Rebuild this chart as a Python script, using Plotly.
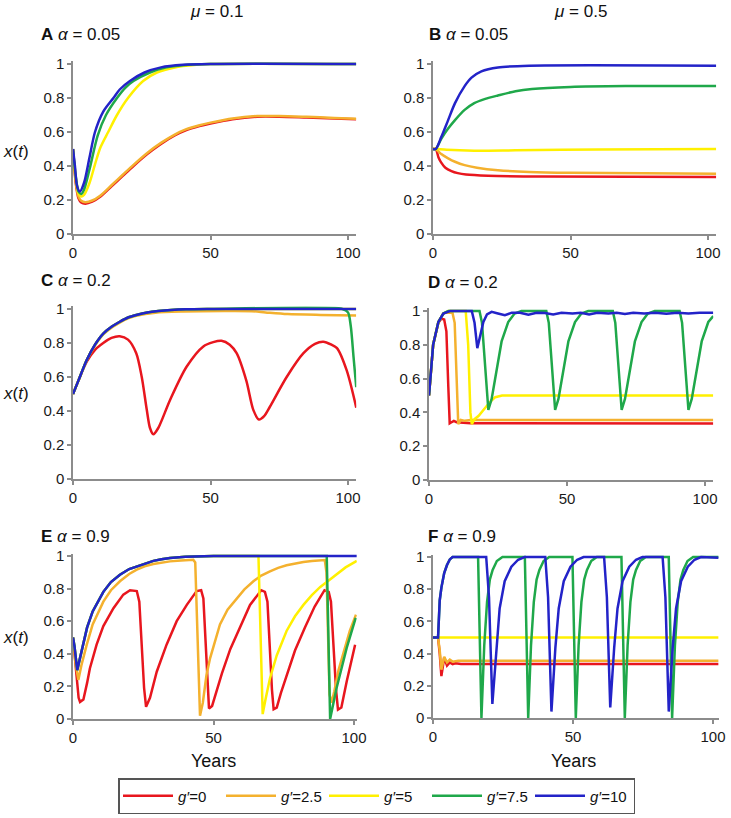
import plotly.graph_objects as go

W, H = 731, 818

def px(x):
    return x / W

def py(y):
    return 1 - y / H

# ---------------- data ----------------
series_names = ["<i>g′</i>=0", "<i>g′</i>=2.5", "<i>g′</i>=5", "<i>g′</i>=7.5", "<i>g′</i>=10"]
series_colors = ["#E8161E", "#F4B12E", "#FFF000", "#1FA84A", "#2323C8"]
y_ticks = [0, 0.2, 0.4, 0.6, 0.8, 1]
y_ticktext = ["0", "0.2", "0.4", "0.6", "0.8", "1"]
x_ticks = [0, 50, 100]

# Panel A  (mu = 0.1, alpha = 0.05)
A_red = [(0,0.5),(1,0.3),(2,0.21),(3,0.185),(4.5,0.178),(7,0.19),(10,0.22),(14,0.28),(18,0.34),(22,0.4),(27,0.47),(32,0.53),(37,0.58),(41,0.61),(46,0.635),(50,0.65),(58,0.675),(67,0.69),(75,0.69),(85,0.685),(95,0.68),(103,0.675)]
A_orange = [(0,0.5),(1,0.31),(2,0.22),(3,0.195),(4.5,0.187),(7,0.197),(10,0.227),(14,0.287),(18,0.347),(22,0.407),(27,0.477),(32,0.536),(37,0.585),(41,0.615),(46,0.64),(50,0.655),(58,0.68),(67,0.694),(75,0.694),(85,0.689),(95,0.683),(103,0.678)]
A_yellow = [(0,0.5),(1,0.33),(2,0.24),(3,0.22),(4,0.23),(6,0.3),(8,0.41),(10,0.51),(12.8,0.6),(16,0.7),(20,0.8),(25.5,0.9),(30.5,0.95),(37,0.98),(45,0.995),(50,1),(103,1)]
A_green = [(0,0.5),(1,0.34),(2,0.25),(3,0.235),(4,0.26),(6,0.38),(9,0.58),(12,0.7),(16,0.8),(19,0.86),(22,0.9),(28,0.95),(34,0.98),(40,0.993),(50,1),(103,1)]
A_blue = [(0,0.5),(0.7,0.4),(1.5,0.28),(2.5,0.25),(4,0.3),(6,0.45),(8,0.6),(11,0.72),(14.7,0.8),(17,0.85),(20.7,0.9),(26,0.95),(32,0.98),(40,0.995),(50,1),(103,1)]

# Panel B  (mu = 0.5, alpha = 0.05)
B_red = [(0,0.5),(1,0.5),(2,0.45),(3,0.42),(4.5,0.39),(6.7,0.37),(9,0.358),(12,0.35),(20,0.343),(40,0.338),(103,0.335)]
B_orange = [(0,0.5),(1,0.5),(3,0.47),(5.5,0.445),(8,0.425),(11.5,0.405),(16,0.39),(23.6,0.375),(35,0.365),(50,0.36),(103,0.355)]
B_yellow = [(0,0.5),(1,0.5),(5,0.495),(15,0.49),(30,0.492),(60,0.497),(103,0.5)]
B_green = [(0,0.5),(1,0.5),(3,0.56),(5.5,0.62),(8,0.67),(11.5,0.73),(15,0.77),(19,0.795),(23.6,0.815),(30,0.84),(36,0.853),(50,0.865),(70,0.87),(103,0.87)]
B_blue = [(0,0.5),(1,0.5),(3,0.57),(5.5,0.67),(8,0.77),(11.5,0.87),(14,0.92),(17.6,0.957),(23.6,0.98),(35,0.99),(103,0.99)]

# Panel C  (mu = 0.1, alpha = 0.2)
C_red = [(0,0.5),(2,0.58),(5,0.69),(8,0.76),(11,0.8),(14,0.83),(17,0.84),(20,0.82),(23,0.74),(25,0.6),(26.8,0.41),(28,0.3),(29.2,0.263),(31,0.3),(35.3,0.465),(41.3,0.66),(47.4,0.78),(51,0.805),(54,0.813),(57,0.79),(59.5,0.74),(63,0.58),(65.6,0.405),(67.6,0.35),(69.5,0.37),(71.6,0.425),(77.7,0.6),(83.8,0.74),(88,0.795),(91,0.808),(94,0.79),(96,0.77),(99.5,0.64),(103,0.42)]
C_orange = [(0,0.5),(2,0.58),(5,0.7),(8,0.785),(11,0.85),(14,0.89),(17,0.92),(20,0.945),(23,0.96),(30,0.978),(40,0.985),(55,0.988),(65,0.987),(70,0.98),(78,0.97),(90,0.965),(103,0.962)]
C_yellow = [(0,0.5),(2,0.58),(5,0.7),(8,0.79),(11,0.855),(14,0.895),(17,0.925),(20,0.95),(23,0.965),(27,0.98),(31,0.988),(41,0.998),(50,1),(103,1)]
C_green = [(0,0.5),(2,0.58),(5,0.7),(8,0.79),(11,0.855),(14,0.895),(17,0.925),(20,0.95),(23,0.965),(27,0.98),(31,0.988),(41,0.998),(50,1),(98,1),(100,0.98),(101,0.9),(102,0.72),(103,0.54)]
C_blue = [(0,0.5),(2,0.58),(5,0.7),(8,0.79),(11,0.855),(14,0.895),(17,0.925),(20,0.95),(23,0.965),(27,0.98),(31,0.988),(41,0.998),(50,1),(103,1)]

# Panel D  (mu = 0.5, alpha = 0.2)
D_red = [(0,0.5),(1.5,0.8),(3.4,0.93),(4.5,0.955),(5.5,0.95),(6.3,0.88),(7,0.55),(7.5,0.335),(8,0.34),(9,0.35),(10,0.342),(12,0.338),(15,0.336),(103,0.335)]
D_orange = [(0,0.5),(1.5,0.8),(3.4,0.935),(5.2,0.985),(6,0.99),(8.5,0.99),(9.3,0.93),(10,0.55),(10.6,0.33),(11.5,0.355),(13,0.35),(15,0.355),(103,0.355)]
D_yellow = [(0,0.5),(1.5,0.8),(3.4,0.935),(5.2,0.985),(7,1),(13.3,1),(14.2,0.8),(15,0.4),(15.5,0.33),(16.5,0.36),(18,0.38),(20,0.42),(22,0.46),(24,0.49),(26.5,0.5),(103,0.5)]
D_green = [(0,0.5),(1.5,0.8),(3.4,0.935),(5.2,0.985),(7,1),(18.3,1),(19.2,0.93),(20.3,0.66),(21.5,0.415),(22.7,0.48),(24.5,0.66),(26.3,0.82),(28.7,0.935),(31,0.985),(33.5,1),(42.5,1),(43.4,0.93),(44.5,0.66),(45.7,0.415),(46.9,0.48),(48.7,0.66),(50.5,0.82),(52.9,0.935),(55.2,0.985),(57.7,1),(66.6,1),(67.5,0.93),(68.6,0.66),(69.8,0.415),(71,0.48),(72.8,0.66),(74.6,0.82),(77,0.935),(79.3,0.985),(81.8,1),(90.8,1),(91.7,0.93),(92.8,0.66),(94,0.415),(95.2,0.48),(97,0.66),(98.8,0.82),(101.2,0.935),(103,0.97)]
D_blue = [(0,0.5),(1.5,0.8),(3.4,0.935),(5.2,0.985),(7.6,1),(15.5,1),(16.5,0.93),(17.5,0.78),(18.5,0.85),(19.7,0.935),(21,0.98),(22.7,0.995),(25,0.985),(27.5,0.975),(30,0.99),(33,0.99),(36,0.978),(39,0.99),(42,0.988),(45,0.98),(48,0.99),(52,0.985),(55,0.99),(58,0.98),(61,0.99),(65,0.985),(68,0.99),(71,0.982),(74,0.99),(78,0.985),(82,0.99),(86,0.984),(90,0.99),(94,0.985),(98,0.99),(103,0.99)]

# Panel E  (mu = 0.1, alpha = 0.9)
E_red = [(0,0.5),(1,0.3),(2,0.13),(2.5,0.105),(3.7,0.12),(5,0.22),(6,0.31),(8.4,0.456),(10.8,0.57),(14.4,0.68),(17.9,0.763),(20.3,0.79),(22.7,0.785),(23.6,0.72),(24.4,0.435),(25.3,0.19),(26,0.075),(27.4,0.13),(29.8,0.29),(33.3,0.456),(36.9,0.6),(40.5,0.7),(44,0.785),(45.6,0.79),(46.4,0.74),(47.3,0.435),(48.4,0.065),(49.5,0.08),(51,0.17),(53,0.28),(56,0.43),(59.5,0.57),(63,0.7),(67,0.79),(68.3,0.78),(69.2,0.72),(70,0.44),(70.8,0.18),(71.4,0.06),(72.5,0.07),(74,0.16),(76,0.27),(79,0.42),(82.5,0.56),(86,0.69),(89.5,0.79),(91,0.78),(91.8,0.72),(92.7,0.44),(93.6,0.18),(94.3,0.057),(95.5,0.07),(97.4,0.23),(100.4,0.456)]
E_orange = [(0,0.5),(1,0.33),(1.9,0.24),(3,0.33),(4.9,0.456),(7,0.58),(10.8,0.72),(13.5,0.79),(16.7,0.845),(20,0.89),(22.7,0.916),(25.5,0.937),(28.6,0.951),(31.5,0.96),(34.5,0.967),(38.5,0.973),(42.8,0.977),(43.5,0.96),(44.3,0.5),(45.2,0.02),(46.2,0.1),(47.5,0.27),(48.8,0.374),(50.5,0.48),(52.3,0.58),(55,0.67),(58.2,0.74),(61,0.795),(64.2,0.845),(67,0.88),(70.1,0.906),(73,0.927),(76,0.943),(79,0.955),(82,0.963),(85,0.97),(88,0.975),(89.6,0.975),(90.2,0.9),(90.8,0.4),(91.3,0.15),(92,0.1),(93,0.17),(94.5,0.3),(96.5,0.42),(98.5,0.54),(100.7,0.64)]
E_yellow = [(0,0.5),(0.5,0.45),(1.5,0.3),(3,0.42),(5,0.56),(7,0.66),(10.8,0.78),(13.5,0.84),(16.7,0.885),(20,0.92),(22.7,0.937),(25.5,0.955),(28.6,0.97),(31.5,0.98),(34.5,0.988),(40,0.995),(50,1),(66,1),(67.5,0.03),(68.5,0.12),(70.1,0.25),(72.5,0.39),(76,0.54),(79,0.63),(82,0.7),(85,0.76),(88,0.81),(91,0.85),(94,0.89),(97,0.93),(101,0.97)]
E_green = [(0,0.5),(0.5,0.45),(1.5,0.3),(3,0.42),(5,0.56),(7,0.66),(10.8,0.78),(13.5,0.84),(16.7,0.885),(20,0.92),(22.7,0.937),(25.5,0.955),(28.6,0.97),(31.5,0.98),(34.5,0.988),(40,0.995),(50,1),(90.3,1),(91.5,0.0),(93.8,0.19),(97.4,0.436),(100.6,0.62)]
E_blue = [(0,0.5),(0.5,0.45),(1.5,0.3),(3,0.42),(5,0.56),(7,0.66),(10.8,0.78),(13.5,0.84),(16.7,0.885),(20,0.92),(22.7,0.937),(25.5,0.955),(28.6,0.97),(31.5,0.98),(34.5,0.988),(40,0.995),(50,1),(101,1)]

# Panel F  (mu = 0.5, alpha = 0.9)
F_red = [(0,0.5),(1.8,0.5),(2.4,0.4),(3,0.26),(4,0.375),(5,0.325),(6,0.345),(7,0.335),(8,0.34),(10,0.335),(102,0.335)]
F_orange = [(0,0.5),(1.8,0.5),(2.4,0.42),(3,0.3),(4,0.38),(5,0.345),(6,0.362),(7,0.35),(9,0.355),(102,0.355)]
F_yellow = [(0,0.5),(102,0.5)]
F_green = [(0,0.5),(1.8,0.5),(2.4,0.73),(3,0.81),(4,0.9),(5,0.95),(6,0.985),(7,1),(16.1,1),(17.3,0.0),(18.3,0.45),(19.3,0.72),(20.3,0.86),(21.3,0.92),(22.8,0.975),(24.8,1),(32.8,1),(34,0.0),(35,0.45),(36,0.72),(37,0.86),(38,0.92),(39.5,0.975),(41.5,1),(49.8,1),(51,0.0),(52,0.45),(53,0.72),(54,0.86),(55,0.92),(56.5,0.975),(58.5,1),(67.3,1),(68.5,0.0),(69.5,0.45),(70.5,0.72),(71.5,0.86),(72.5,0.92),(74,0.975),(76,1),(84.2,1),(85.4,0.0),(86.4,0.45),(87.4,0.72),(88.4,0.86),(89.4,0.92),(90.9,0.975),(92.9,1),(102,1)]
F_blue = [(0,0.5),(1.8,0.5),(2.4,0.73),(3,0.81),(4,0.9),(5,0.95),(6,0.985),(7,1),(19,1),(20,0.75),(21.2,0.087),(22.6,0.435),(23.8,0.68),(25.6,0.85),(28,0.94),(30.4,0.983),(32.7,1),(40.1,1),(41.1,0.75),(42.3,0.04),(43.7,0.435),(44.9,0.68),(46.7,0.85),(49.1,0.94),(51.5,0.983),(53.8,1),(61.1,1),(62.1,0.75),(63.3,0.066),(64.7,0.435),(65.9,0.68),(67.7,0.85),(70.1,0.94),(72.5,0.983),(74.8,1),(82,1),(83,0.75),(84.2,0.04),(85.6,0.435),(86.8,0.68),(88.6,0.85),(91,0.94),(93.4,0.983),(95.7,1),(102,0.995)]

panel_series = {
    "A": [A_red, A_orange, A_yellow, A_green, A_blue],
    "B": [B_red, B_orange, B_yellow, B_green, B_blue],
    "C": [C_red, C_orange, C_yellow, C_green, C_blue],
    "D": [D_red, D_orange, D_yellow, D_green, D_blue],
    "E": [E_red, E_orange, E_yellow, E_green, E_blue],
    "F": [F_red, F_orange, F_yellow, F_green, F_blue],
}
panel_alpha = {"A": "0.05", "B": "0.05", "C": "0.2", "D": "0.2", "E": "0.9", "F": "0.9"}
mu_labels = ["0.1", "0.5"]

# ---------------- layout geometry (window pixels) ----------------
# x0px, px per year, xmax, y(0) px, y(1) px, line shape
geom = {
    "A": (73, 2.75, 103, 234, 64, "spline"),
    "B": (433, 2.75, 103, 234, 64, "spline"),
    "C": (73, 2.75, 103, 479, 309, "spline"),
    "D": (429, 2.76, 103, 480, 311, "linear"),
    "E": (73, 2.81, 101, 719, 556, "linear"),
    "F": (433, 2.80, 102, 718, 557, "linear"),
}
YMAX = 1.015
title_pos = {"A": (39, 34), "B": (427, 34), "C": (39, 281), "D": (426, 282), "E": (39, 536), "F": (426, 536)}

fig = go.Figure()
FONT = "Liberation Sans, Arial, sans-serif"
axis_font = dict(family=FONT, size=15, color="#1a1a1a")
axcol = "#8c8c8c"
layout_axes = {}
annotations = []

for i, key in enumerate(["A", "B", "C", "D", "E", "F"]):
    x0, ppu, xmax, y0, y1, shape = geom[key]
    n = "" if i == 0 else str(i + 1)
    xdom = [px(x0), px(x0 + ppu * xmax)]
    ytop = y0 - (y0 - y1) * YMAX
    ydom = [py(y0), py(ytop)]
    layout_axes["xaxis" + n] = dict(
        domain=xdom, range=[0, xmax], anchor="y" + n, showgrid=False, zeroline=False,
        showline=True, linecolor=axcol, linewidth=1.5, ticks="outside", ticklen=4,
        tickcolor=axcol, tickwidth=1.5, tickvals=x_ticks, tickfont=axis_font,
        automargin=False,
    )
    layout_axes["yaxis" + n] = dict(
        domain=ydom, range=[0, YMAX], anchor="x" + n, showgrid=False, zeroline=False,
        showline=True, linecolor=axcol, linewidth=1.5, ticks="outside", ticklen=4,
        tickcolor=axcol, tickwidth=1.5, tickvals=y_ticks, ticktext=y_ticktext,
        tickfont=axis_font, automargin=False,
    )
    for j, pts in enumerate(panel_series[key]):
        fig.add_trace(go.Scatter(
            x=[p[0] for p in pts], y=[p[1] for p in pts], mode="lines",
            xaxis="x" + n, yaxis="y" + n,
            line=dict(color=series_colors[j], width=2.5, shape=shape, smoothing=0.8),
            name=series_names[j], legendgroup=series_names[j], showlegend=(i == 0),
            hoverinfo="skip",
        ))
    tx, ty = title_pos[key]
    annotations.append(dict(
        text=f"<b>{key}</b> <i>α</i> = {panel_alpha[key]}", x=px(tx), y=py(ty),
        xref="paper", yref="paper", xanchor="left", yanchor="middle", showarrow=False,
        font=dict(family=FONT, size=17, color="#111"),
    ))

for cx, mu in zip([216, 580], mu_labels):
    annotations.append(dict(
        text=f"<i>μ</i> = {mu}", x=px(cx), y=py(12), xref="paper", yref="paper",
        xanchor="center", yanchor="middle", showarrow=False,
        font=dict(family=FONT, size=17, color="#111"),
    ))
for cy in [152, 393, 637]:
    annotations.append(dict(
        text="<i>x</i>(<i>t</i>)", x=px(16), y=py(cy), xref="paper", yref="paper",
        xanchor="center", yanchor="middle", showarrow=False,
        font=dict(family=FONT, size=17, color="#111"),
    ))
for cx in [213, 573]:
    annotations.append(dict(
        text="Years", x=px(cx), y=py(761), xref="paper", yref="paper",
        xanchor="center", yanchor="middle", showarrow=False,
        font=dict(family=FONT, size=18, color="#111"),
    ))

fig.update_layout(
    width=W, height=H, margin=dict(l=0, r=0, t=0, b=0, autoexpand=False),
    paper_bgcolor="white", plot_bgcolor="white",
    annotations=annotations,
    legend=dict(
        orientation="h", x=px(118), xanchor="left", y=py(778), yanchor="top",
        bordercolor="#555555", borderwidth=1.5, entrywidth=38, itemwidth=50,
        font=dict(family=FONT, size=15, color="#111"),
        tracegroupgap=0,
    ),
    **layout_axes,
)

# the figure fills the whole window: drop the page's default body margin
fig.write_html(
    "out.html",
    config={"displayModeBar": False},
    post_script="document.body.style.margin='0';document.body.style.overflow='hidden';",
)
